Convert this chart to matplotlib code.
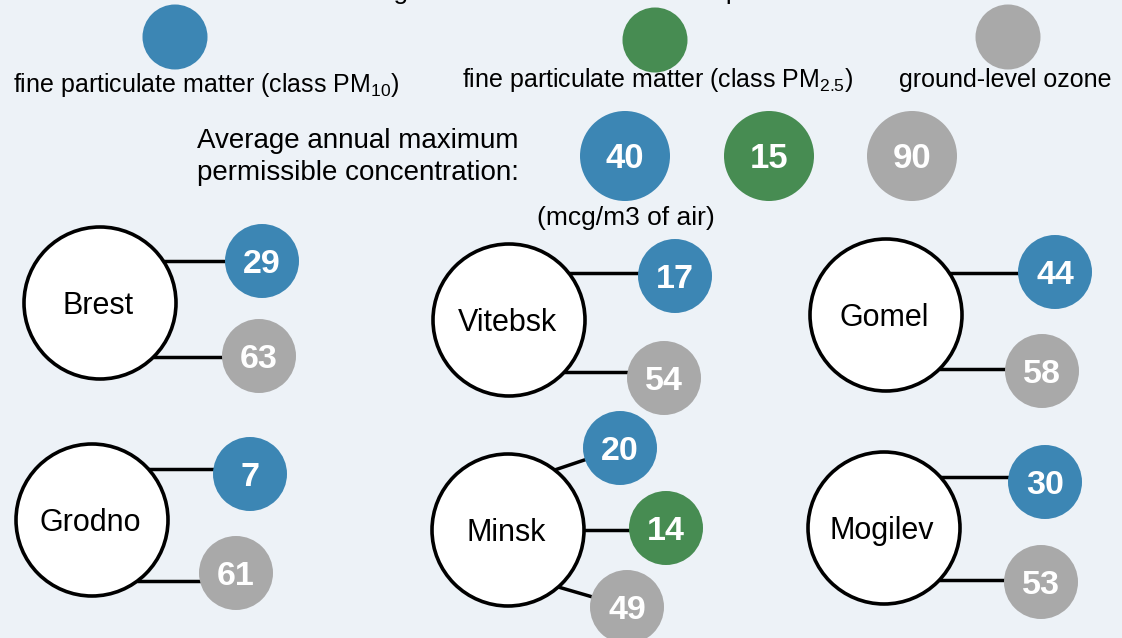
import matplotlib.pyplot as plt
from matplotlib.patches import Circle

plt.rcParams['font.family'] = ['Liberation Sans', 'DejaVu Sans']
plt.rcParams['mathtext.fontset'] = 'custom'
plt.rcParams['mathtext.rm'] = 'Liberation Sans'
plt.rcParams['mathtext.it'] = 'Liberation Sans'

# data
pollutants = ["fine particulate matter (class PM$_{\\mathrm{10}}$)",
              "fine particulate matter (class PM$_{\\mathrm{2.5}}$)",
              "ground-level ozone"]
limits = [40, 15, 90]
cities = ["Brest", "Vitebsk", "Gomel", "Grodno", "Minsk", "Mogilev"]
pm10 = [29, 17, 44, 7, 20, 30]
pm25 = [None, None, None, None, 14, None]
ozone = [63, 54, 58, 61, 49, 53]

colors = ["#3c86b4", "#478c52", "#a9a9a9"]
bg = "#edf2f7"

# layout (pixel space)
city_xy = [(100, 303), (509, 320), (886, 315), (92, 520), (508, 530), (884, 528)]
# per city, per pollutant: dot (dx, dy), line start height on city circle, line end height
dot_offsets = [
    [(162, -42, -42, -42), None, (159, 53, 54, 54)],
    [(166, -44, -47, -47), None, (155, 58, 52, 52)],
    [(169, -43, -42, -42), None, (156, 56, 54, 54)],
    [(158, -46, -51, -51), None, (144, 53, 61, 61)],
    [(112, -82, -60, -82), (158, -2, 0, 0), (119, 77, 57, 77)],
    [(161, -46, -51, -51), None, (157, 54, 52, 52)],
]
R_CITY = 76
R_DOT = 37

fig = plt.figure(figsize=(11.22, 6.38), dpi=100, facecolor=bg)
ax = fig.add_axes([0, 0, 1, 1])
ax.set_xlim(0, 1122)
ax.set_ylim(638, 0)
ax.set_aspect('equal')
ax.axis('off')
ax.set_facecolor(bg)

# title, cut off at the very top as in the source
ax.text(325, -1.5, "Average annual concentrations of pollutants", fontsize=19,
        va='baseline', ha='left', color='black', clip_on=False)

# legend
leg_xy = [(175, 37), (655, 40), (1008, 37)]
leg_lab = [(206, 92), (658, 87), (1005, 87)]
for i in range(3):
    ax.add_patch(Circle(leg_xy[i], 32.5, color=colors[i], lw=0))
    ax.text(leg_lab[i][0], leg_lab[i][1], pollutants[i], fontsize=18,
            ha='center', va='baseline')

# reference limits
ax.text(197, 148, "Average annual maximum", fontsize=20, va='baseline', ha='left')
ax.text(197, 180, "permissible concentration:", fontsize=20, va='baseline', ha='left')
lim_xy = [(625, 156), (769, 156), (912, 156)]
for i, v in enumerate(limits):
    ax.add_patch(Circle(lim_xy[i], 45, color=colors[i], lw=0))
    ax.text(lim_xy[i][0], lim_xy[i][1] + 12.5, str(v), fontsize=25, fontweight='bold',
            color='white', ha='center', va='baseline')
ax.text(626, 225, "(mcg/m3 of air)", fontsize=19, ha='center', va='baseline')

# cities
series = [pm10, pm25, ozone]
for c, name in enumerate(cities):
    cx, cy = city_xy[c]
    for p in range(3):
        val = series[p][c]
        off = dot_offsets[c][p]
        if val is None or off is None:
            continue
        dx, dy, ady, edy = off
        sx = cx + (R_CITY ** 2 - ady ** 2) ** 0.5
        sy = cy + ady
        ax.plot([sx, cx + dx], [sy, cy + edy], color='black', lw=2.5,
                solid_capstyle='butt', zorder=2)
        ax.add_patch(Circle((cx + dx, cy + dy), R_DOT, color=colors[p], lw=0, zorder=3))
        ax.text(cx + dx, cy + dy + 12, str(val), fontsize=24.5, fontweight='bold',
                color='white', ha='center', va='baseline', zorder=4)
    ax.add_patch(Circle((cx, cy), R_CITY, facecolor='white', edgecolor='black',
                        lw=2.6, zorder=3))
    ax.text(cx - 2, cy + 11, name, fontsize=22, ha='center', va='baseline', zorder=4)

fig.savefig("out.png", dpi=100, facecolor=bg)
